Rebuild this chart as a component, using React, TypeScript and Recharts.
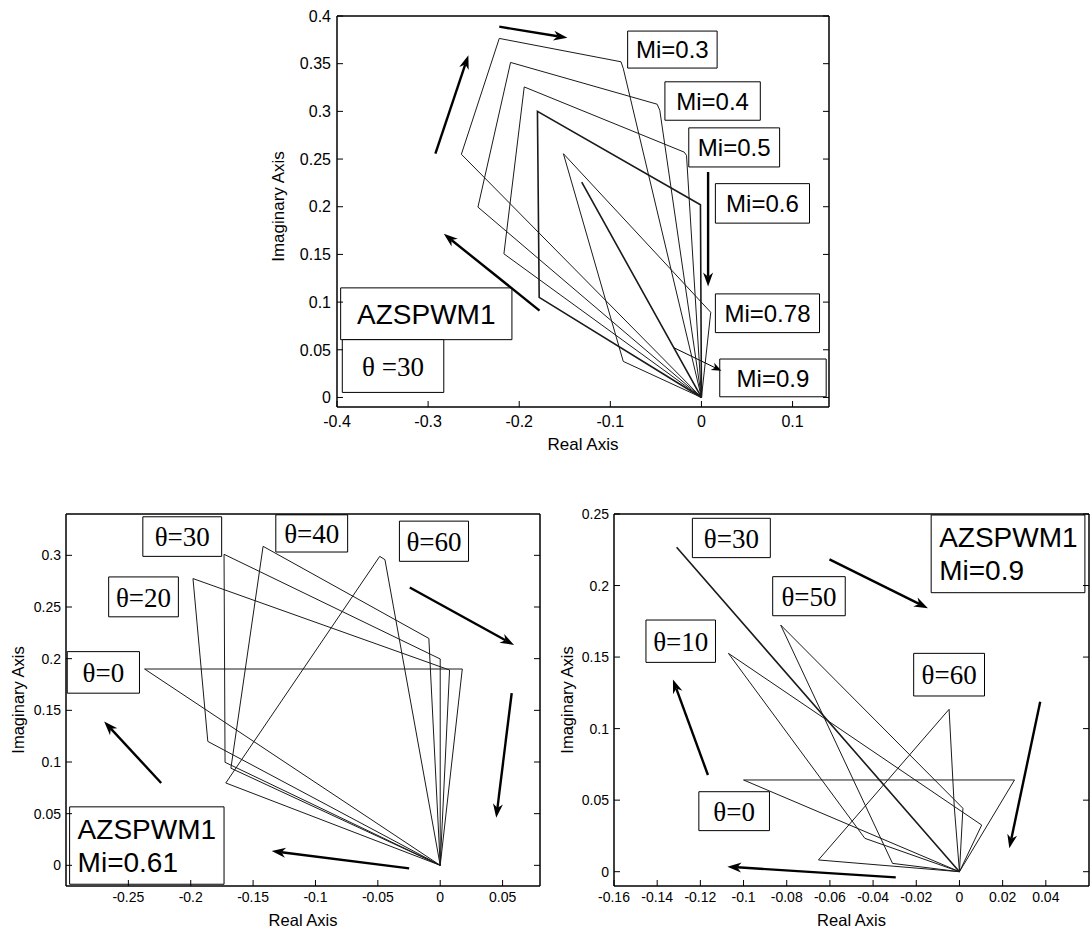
import React from 'react';
import { ScatterChart, Scatter, XAxis, YAxis, ReferenceLine, ReferenceArea } from 'recharts';

type P = [number, number];
type Locus = { pts: P[]; bold?: boolean };
type Arrow = { from: P; to: P; thin?: boolean };
type Note = { x: [number, number]; y: [number, number]; text: string[]; kind: 'mi' | 'theta' | 'title' };

const SANS = '"Liberation Sans", Arial, Helvetica, sans-serif';
const SERIF = '"Liberation Serif", "Times New Roman", serif';

// ---- top: AZSPWM1, theta = 30, Mi sweep
const topXTicks = [-0.4, -0.3, -0.2, -0.1, 0, 0.1];
const topYTicks = [0, 0.05, 0.1, 0.15, 0.2, 0.25, 0.3, 0.35, 0.4];
const mi03: P[] = [[0, 0], [-0.2635, 0.255], [-0.2219, 0.3765], [-0.0883, 0.352], [-0.0858, 0.345], [0, 0]];
const mi04: P[] = [[0, 0], [-0.2453, 0.1996], [-0.2095, 0.3513], [-0.0486, 0.3075], [-0.0457, 0.3011], [0, 0]];
const mi05: P[] = [[0, 0], [-0.2168, 0.1506], [-0.1945, 0.3256], [-0.019, 0.2573], [-0.0164, 0.2539], [0, 0]];
const mi06: P[] = [[0, 0], [-0.1781, 0.105], [-0.18, 0.3001], [-0.0011, 0.2021], [0, 0]];
const mi078: P[] = [[0, 0], [-0.0858, 0.0378], [-0.1515, 0.2556], [0.0102, 0.0893], [0, 0]];
const mi09: P[] = [[0, 0], [-0.1314, 0.2258], [0, 0]];

const topArrows: Arrow[] = [
  { from: [-0.292, 0.2557], to: [-0.2558, 0.3589] },
  { from: [-0.2219, 0.3888], to: [-0.1471, 0.3771] },
  { from: [0.0073, 0.2364], to: [0.0073, 0.1163] },
  { from: [-0.1777, 0.0911], to: [-0.2828, 0.1716] },
  { from: [-0.031, 0.0525], to: [0.0219, 0.028], thin: true },
];
const topNotes: Note[] = [
  { x: [-0.081, 0.0172], y: [0.3454, 0.3842], text: ['Mi=0.3'], kind: 'mi' },
  { x: [-0.0401, 0.0646], y: [0.2907, 0.331], text: ['Mi=0.4'], kind: 'mi' },
  { x: [-0.0139, 0.0858], y: [0.2417, 0.2827], text: ['Mi=0.5'], kind: 'mi' },
  { x: [0.0153, 0.1186], y: [0.1828, 0.2242], text: ['Mi=0.6'], kind: 'mi' },
  { x: [0.0153, 0.1296], y: [0.068, 0.1086], text: ['Mi=0.78'], kind: 'mi' },
  { x: [0.0201, 0.1369], y: [0.0007, 0.0403], text: ['Mi=0.9'], kind: 'mi' },
  { x: [-0.396, -0.208], y: [0.0606, 0.1149], text: ['AZSPWM1'], kind: 'title' },
  { x: [-0.3942, -0.2828], y: [0.0053, 0.0606], text: ['θ =30'], kind: 'theta' },
];

// ---- bottom left: Mi = 0.61, theta sweep
const blXTicks = [-0.25, -0.2, -0.15, -0.1, -0.05, 0, 0.05];
const blYTicks = [0, 0.05, 0.1, 0.15, 0.2, 0.25, 0.3];
const bl0: P[] = [[0, 0], [-0.237, 0.19], [0.0177, 0.19], [0, 0]];
const bl20: P[] = [[0, 0], [-0.1863, 0.1199], [-0.1982, 0.2775], [0.0075, 0.189], [0, 0]];
const bl30: P[] = [[0, 0], [-0.1725, 0.0997], [-0.1733, 0.301], [0, 0.1997], [0, 0]];
const bl40: P[] = [[0, 0], [-0.1678, 0.094], [-0.142, 0.3087], [-0.0091, 0.2196], [0, 0]];
const bl60: P[] = [[0, 0], [-0.1719, 0.0797], [-0.0485, 0.299], [-0.0443, 0.2958], [0, 0]];

const blArrows: Arrow[] = [
  { from: [-0.2237, 0.0797], to: [-0.2694, 0.1392] },
  { from: [-0.0249, -0.0029], to: [-0.1351, 0.0138] },
  { from: [-0.0244, 0.2688], to: [0.0592, 0.2132] },
  { from: [0.0573, 0.1666], to: [0.0449, 0.046] },
];
const blNotes: Note[] = [
  { x: [-0.2384, -0.1752], y: [0.299, 0.3373], text: ['θ=30'], kind: 'theta' },
  { x: [-0.1318, -0.0742], y: [0.3032, 0.3392], text: ['θ=40'], kind: 'theta' },
  { x: [-0.0327, 0.0227], y: [0.2942, 0.3331], text: ['θ=60'], kind: 'theta' },
  { x: [-0.2658, -0.2099], y: [0.2405, 0.2791], text: ['θ=20'], kind: 'theta' },
  { x: [-0.299, -0.2411], y: [0.1666, 0.2068], text: ['θ=0'], kind: 'theta' },
  { x: [-0.2971, -0.1733], y: [-0.0183, 0.0566], text: ['AZSPWM1', 'Mi=0.61'], kind: 'title' },
];

// ---- bottom right: Mi = 0.9, theta sweep
const brXTicks = [-0.16, -0.14, -0.12, -0.1, -0.08, -0.06, -0.04, -0.02, 0, 0.02, 0.04];
const brYTicks = [0, 0.05, 0.1, 0.15, 0.2, 0.25];
const br0: P[] = [[0, 0], [-0.1, 0.0641], [0.0255, 0.0641], [0, 0]];
const br10: P[] = [[0, 0], [-0.0438, 0.0233], [-0.107, 0.1526], [0.0103, 0.0326], [0, 0]];
const br30: P[] = [[0, 0], [-0.131, 0.2267], [0, 0]];
const br50: P[] = [[0, 0], [-0.031, 0.0058], [-0.0828, 0.1724], [0.0016, 0.0443], [0, 0]];
const br60: P[] = [[0, 0], [-0.0653, 0.0082], [-0.0048, 0.1135], [-0.0024, 0.0454], [0, 0]];

const brArrows: Arrow[] = [
  { from: [-0.1165, 0.0676], to: [-0.1327, 0.1344] },
  { from: [-0.0295, -0.004], to: [-0.1075, 0.0035] },
  { from: [-0.0602, 0.2183], to: [-0.0146, 0.1841] },
  { from: [0.0374, 0.1188], to: [0.0231, 0.0163] },
];
const brNotes: Note[] = [
  { x: [-0.1237, -0.0876], y: [0.2195, 0.247], text: ['θ=30'], kind: 'theta' },
  { x: [-0.0865, -0.0529], y: [0.1789, 0.2062], text: ['θ=50'], kind: 'theta' },
  { x: [-0.1452, -0.113], y: [0.1463, 0.1759], text: ['θ=10'], kind: 'theta' },
  { x: [-0.0212, 0.0116], y: [0.1228, 0.1526], text: ['θ=60'], kind: 'theta' },
  { x: [-0.1207, -0.088], y: [0.0287, 0.0559], text: ['θ=0'], kind: 'theta' },
  { x: [-0.0131, 0.0581], y: [0.195, 0.2493], text: ['AZSPWM1', 'Mi=0.9'], kind: 'title' },
];

const noteFont = {
  mi: { size: 24, family: SANS },
  title: { size: 28, family: SANS },
  theta: { size: 27, family: SERIF },
};

const toXY = (a: P[]) => a.map(([x, y]) => ({ x, y }));
const fmt = (v: number) => String(v);
const noDot = () => <g />;

function XTick(p: any) {
  const { x, y, payload, fsz, lab, up } = p;
  return (
    <g>
      <line x1={x} x2={x} y1={y} y2={up ? y + 6 : y - 6} stroke="#000" strokeWidth={1} />
      {!up && (
        <text x={x} y={y + lab} textAnchor="middle" fontSize={fsz} fontFamily={SANS} fill="#000">
          {fmt(payload.value)}
        </text>
      )}
    </g>
  );
}

function YTick(p: any) {
  const { x, y, payload, fsz, gap, right } = p;
  return (
    <g>
      <line x1={x} x2={right ? x - 6 : x + 6} y1={y} y2={y} stroke="#000" strokeWidth={1} />
      {!right && (
        <text x={x - gap} y={y + fsz * 0.36} textAnchor="end" fontSize={fsz} fontFamily={SANS} fill="#000">
          {fmt(payload.value)}
        </text>
      )}
    </g>
  );
}

const xTitle = (text: string, dy: number, fs: number) => (p: any) => {
  const vb = p.viewBox ?? p;
  return (
    <text x={vb.x + vb.width / 2} y={vb.y + dy} textAnchor="middle" fontSize={fs} fontFamily={SANS} fill="#000">
      {text}
    </text>
  );
};

const yTitle = (text: string, bx: number, dy: number, fs: number) => (p: any) => {
  const vb = p.viewBox ?? p;
  const x = vb.x + bx;
  const y = vb.y + vb.height / 2 + dy;
  return (
    <text x={x} y={y} transform={`rotate(-90 ${x} ${y})`} textAnchor="middle" fontSize={fs} fontFamily={SANS} fill="#000">
      {text}
    </text>
  );
};

const boxText = (n: Note) => (p: any) => {
  const vb = p.viewBox ?? p;
  const { size, family } = noteFont[n.kind];
  const cy = vb.y + vb.height / 2;
  if (n.text.length === 1) {
    return (
      <text x={vb.x + vb.width / 2} y={cy + size * 0.36} textAnchor="middle" fontSize={size} fontFamily={family} fill="#000">
        {n.text[0]}
      </text>
    );
  }
  const lh = size * 1.18;
  const k = n.text.length;
  return (
    <text fontSize={size} fontFamily={family} fill="#000">
      {n.text.map((t, i) => (
        <tspan key={i} x={vb.x + 8} y={cy + (i - (k - 1) / 2) * lh + size * 0.36}>
          {t}
        </tspan>
      ))}
    </text>
  );
};

const arrowShape = (thin?: boolean) => (p: any) => {
  const { x1, y1, x2, y2 } = p;
  const dx = x2 - x1;
  const dy = y2 - y1;
  const len = Math.hypot(dx, dy) || 1;
  const ux = dx / len;
  const uy = dy / len;
  const hl = thin ? 10 : 14;
  const hw = thin ? 4 : 5;
  const bx = x2 - ux * hl;
  const by = y2 - uy * hl;
  const nx = -uy;
  const ny = ux;
  const mx = x2 - ux * hl * 0.7;
  const my = y2 - uy * hl * 0.7;
  return (
    <g>
      <line x1={x1} y1={y1} x2={mx} y2={my} stroke="#000" strokeWidth={thin ? 1 : 2.4} />
      <path
        d={`M${x2},${y2}L${bx + nx * hw},${by + ny * hw}L${mx},${my}L${bx - nx * hw},${by - ny * hw}Z`}
        fill="#000"
      />
    </g>
  );
};

type Layout = {
  left: number; top: number; w: number; h: number;
  yw: number; mt: number; mr: number; xh: number;
  tickFs: number; xLab: number; yGap: number;
  titleFs: number; xTitleDy: number; yTitleX: number; yTitleDy: number;
};

function Panel({ lay, xd, yd, xt, yt, loci, arrows, notes }: {
  lay: Layout; xd: [number, number]; yd: [number, number]; xt: number[]; yt: number[];
  loci: Locus[]; arrows: Arrow[]; notes: Note[];
}) {
  const frame = { stroke: '#000', strokeWidth: 1.5 };
  // the top and right axes only carry the box edge and inner ticks; they need a 1px band
  return (
    <div style={{ position: 'absolute', left: lay.left, top: lay.top }}>
      <ScatterChart width={lay.w} height={lay.h} margin={{ top: lay.mt - 1, right: lay.mr - 1, bottom: 0, left: 0 }}>
        <XAxis
          type="number" dataKey="x" domain={xd} ticks={xt} interval={0} allowDataOverflow
          height={lay.xh} tickSize={0} tickMargin={0} axisLine={frame} tickLine={false}
          tick={<XTick fsz={lay.tickFs} lab={lay.xLab} />}
          label={xTitle('Real Axis', lay.xTitleDy, lay.titleFs)}
        />
        <XAxis
          xAxisId="t" orientation="top" type="number" domain={xd} ticks={xt} interval={0} allowDataOverflow
          height={1} tickSize={0} tickMargin={0} axisLine={frame} tickLine={false} tick={<XTick up />}
        />
        <YAxis
          type="number" dataKey="y" domain={yd} ticks={yt} interval={0} allowDataOverflow
          width={lay.yw} tickSize={0} tickMargin={0} axisLine={frame} tickLine={false}
          tick={<YTick fsz={lay.tickFs} gap={lay.yGap} />}
          label={yTitle('Imaginary Axis', lay.yTitleX, lay.yTitleDy, lay.titleFs)}
        />
        <YAxis
          yAxisId="r" orientation="right" type="number" domain={yd} ticks={yt} interval={0} allowDataOverflow
          width={1} tickSize={0} tickMargin={0} axisLine={frame} tickLine={false} tick={<YTick right />}
        />
        {loci.map((l, i) => (
          <Scatter
            key={`l${i}`}
            data={toXY(l.pts)}
            line={{ stroke: '#1a1a1a', strokeWidth: l.bold ? 1.6 : 1 }}
            shape={noDot}
            isAnimationActive={false}
          />
        ))}
        {arrows.map((a, i) => (
          <ReferenceLine
            key={`a${i}`}
            segment={[{ x: a.from[0], y: a.from[1] }, { x: a.to[0], y: a.to[1] }]}
            ifOverflow="visible"
            shape={arrowShape(a.thin)}
          />
        ))}
        {notes.map((n, i) => (
          <ReferenceArea
            key={`n${i}`}
            x1={n.x[0]} x2={n.x[1]} y1={n.y[0]} y2={n.y[1]}
            fill="#fff" fillOpacity={1} stroke="#000" strokeWidth={1}
            ifOverflow="visible"
            label={boxText(n)}
          />
        ))}
      </ScatterChart>
    </div>
  );
}

const topLay: Layout = {
  left: 270, top: 0, w: 570, h: 460, yw: 67, mt: 16, mr: 11, xh: 53,
  tickFs: 16, xLab: 20, yGap: 6, titleFs: 17, xTitleDy: 43, yTitleX: 14, yTitleDy: -5,
};
const blLay: Layout = {
  left: 0, top: 470, w: 552, h: 461, yw: 66, mt: 44, mr: 12, xh: 45,
  tickFs: 14, xLab: 16, yGap: 5, titleFs: 16.5, xTitleDy: 40, yTitleX: 24, yTitleDy: 0,
};
const brLay: Layout = {
  left: 555, top: 470, w: 537, h: 461, yw: 59, mt: 44, mr: 3, xh: 45,
  tickFs: 14, xLab: 16, yGap: 5, titleFs: 16.5, xTitleDy: 40, yTitleX: 18, yTitleDy: 0,
};

export default function App() {
  return (
    <div style={{ position: 'absolute', left: 0, top: 0, width: 1092, height: 931, background: '#fff' }}>
      <Panel
        lay={topLay} xd={[-0.4, 0.14]} yd={[-0.01, 0.4]} xt={topXTicks} yt={topYTicks}
        loci={[{ pts: mi03 }, { pts: mi04 }, { pts: mi05 }, { pts: mi06, bold: true }, { pts: mi078 }, { pts: mi09, bold: true }]}
        arrows={topArrows} notes={topNotes}
      />
      <Panel
        lay={blLay} xd={[-0.3, 0.08]} yd={[-0.02, 0.34]} xt={blXTicks} yt={blYTicks}
        loci={[{ pts: bl0 }, { pts: bl20 }, { pts: bl30 }, { pts: bl40 }, { pts: bl60 }]}
        arrows={blArrows} notes={blNotes}
      />
      <Panel
        lay={brLay} xd={[-0.16, 0.06]} yd={[-0.01, 0.25]} xt={brXTicks} yt={brYTicks}
        loci={[{ pts: br0 }, { pts: br10 }, { pts: br30, bold: true }, { pts: br50 }, { pts: br60 }]}
        arrows={brArrows} notes={brNotes}
      />
    </div>
  );
}
